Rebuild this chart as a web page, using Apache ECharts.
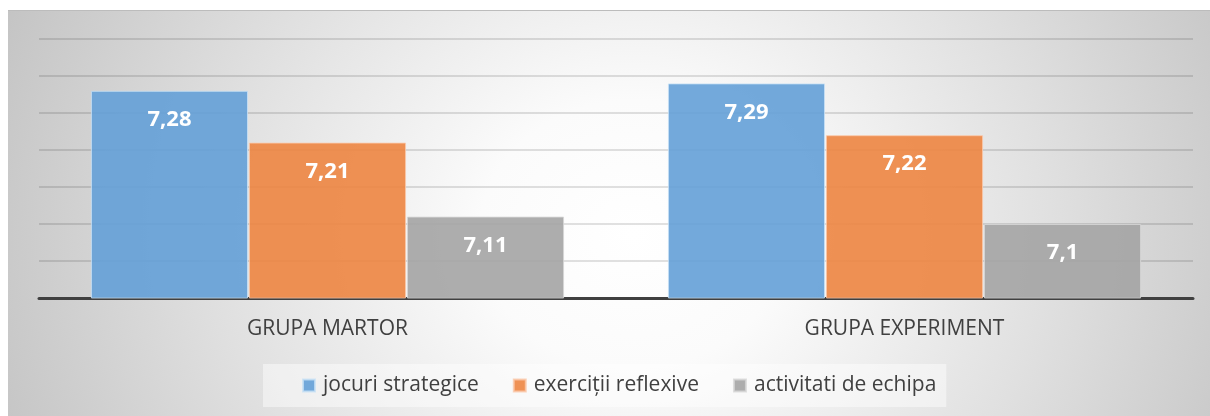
<html>
	<head>
		<script src="https://cdn.jsdelivr.net/npm/echarts@6/dist/echarts.min.js"></script>
		<style>
			body { margin: 0; background: #fff; }
			#main {
				position: absolute; left: 8px; top: 10px; width: 1202px; height: 406px;
				border-top: 1px solid #bcbcbc;
				background: radial-gradient(ellipse 58% 150% at 52% 55%, #ffffff 0%, #fbfbfb 22%, #e0e0e0 60%, #c2c2c2 100%);
			}
		</style>
	</head>
<body>
	<div id="main"></div>
	<script type="text/javascript">
		var categories = ['GRUPA MARTOR', 'GRUPA EXPERIMENT'];
		var jocuri = [7.28, 7.29];
		var exercitii = [7.21, 7.22];
		var activitati = [7.11, 7.1];
		var seriesNames = ['jocuri strategice', 'exerciții reflexive', 'activitati de echipa'];

		var myChart = echarts.init(document.getElementById('main'));

		// virgula zecimala ca in original
		function fmt(p) {
			return String(p.value).replace('.', ',');
		}
		function bar(name, data, color, border) {
			return {
				name: name,
				type: 'bar',
				data: data,
				barGap: '0.6%',
				barCategoryGap: '18%',
				itemStyle: { color: color, borderColor: border, borderWidth: 1 },
				label: {
					show: true, position: 'insideTop', distance: 18,
					color: '#fff', fontWeight: 'bold', fontSize: 22,
					fontFamily: 'Open Sans', formatter: fmt
				}
			};
		}

		var option = {
			animation: false,
			textStyle: { fontFamily: 'Open Sans' },
			grid: { left: 31, right: 17, top: 28, bottom: 119 },
			legend: {
				bottom: 10, left: 255,
				itemWidth: 12, itemHeight: 12, itemGap: 34,
				icon: 'rect',
				padding: [11, 10, 11, 39],
				backgroundColor: 'rgba(255,255,255,0.45)',
				textStyle: { color: '#404040', fontSize: 21, fontFamily: 'Open Sans', padding: [0, 0, 0, 3] },
				data: seriesNames
			},
			xAxis: {
				type: 'category',
				data: categories,
				axisLine: { lineStyle: { color: '#404040', width: 3 } },
				axisTick: { show: false },
				axisLabel: { color: '#404040', fontSize: 21, margin: 21, fontFamily: 'Open Sans' }
			},
			yAxis: {
				type: 'value',
				min: 7, max: 7.35, interval: 0.05,
				axisLabel: { show: false },
				axisLine: { show: false },
				axisTick: { show: false },
				splitLine: { lineStyle: { color: 'rgba(0,0,0,0.16)', width: 1.5 } }
			},
			series: [
				bar(seriesNames[0], jocuri, 'rgba(100,160,215,0.9)', 'rgba(200,225,245,0.8)'),
				bar(seriesNames[1], exercitii, 'rgba(237,133,65,0.9)', 'rgba(250,200,170,0.8)'),
				bar(seriesNames[2], activitati, 'rgba(164,164,164,0.9)', 'rgba(215,215,215,0.8)')
			]
		};
		myChart.setOption(option);
	</script>
</body>
</html>
